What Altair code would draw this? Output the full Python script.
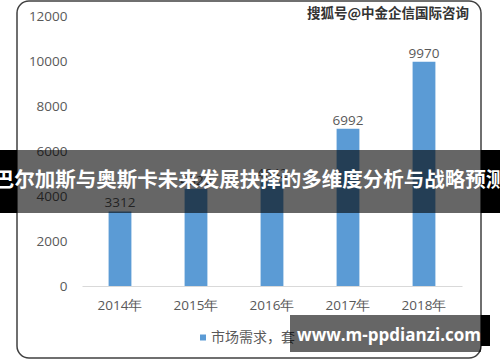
import altair as alt
import pandas as pd

years = ["2014年", "2015年", "2016年", "2017年", "2018年"]
demand = [3312, 4320, 4642, 6992, 9970]
y_ticks = [0, 2000, 4000, 6000, 8000, 10000, 12000]
series_name = ["市场需求，套"]
banner_title = ["巴尔加斯与奥斯卡未来发展抉择的多维度分析与战略预测"]
source_mark = ["搜狐号@中金企信国际咨询"]
site_mark = ["www.m-ppdianzi.com"]

df = pd.DataFrame({"year": years, "value": demand})
one = pd.DataFrame({"k": [0]})

W, H = 380, 270
PL, PT = 82, 16
GRAY = "#595959"
BLUE = "#5b9bd5"

x_enc = alt.X(
    "year:N", sort=years,
    scale=alt.Scale(paddingInner=0.7, paddingOuter=0.35),
    axis=alt.Axis(title=None, labelAngle=0, domain=True, domainColor="#d9d9d9",
                  domainWidth=1, ticks=False, labelPadding=12, labelFontSize=13.5,
                  labelColor=GRAY, labelFont="Open Sans"),
)
y_enc = alt.Y(
    "value:Q",
    scale=alt.Scale(domain=[0, 12000]),
    axis=alt.Axis(title=None, values=y_ticks, grid=False, domain=False, ticks=False,
                  labelPadding=15, labelFontSize=13.5, labelColor=GRAY,
                  labelFont="Open Sans", format="d"),
)

frame = alt.Chart(one).mark_rect(
    fill="white", fillOpacity=0, stroke="#404040", strokeWidth=1.5, cornerRadius=12
).encode(x=alt.value(17 - PL), x2=alt.value(481 - PL),
         y=alt.value(1 - PT), y2=alt.value(358 - PT))

bars = alt.Chart(df).mark_bar(color=BLUE).encode(x=x_enc, y=y_enc)

labels = alt.Chart(df).mark_text(
    dy=-8, fontSize=13.5, color=GRAY, font="Open Sans"
).encode(x=alt.X("year:N", sort=years), y="value:Q",
         text=alt.Text("value:Q", format="d"))

leg_df = pd.DataFrame({"s": series_name})
leg_sym = alt.Chart(leg_df).mark_square(size=36, color=BLUE, opacity=1).encode(
    x=alt.value(203 - PL), y=alt.value(337.5 - PT))
leg_txt = alt.Chart(leg_df).mark_text(
    align="left", baseline="middle", fontSize=14, color=GRAY, font="Noto Sans CJK SC"
).encode(text="s:N", x=alt.value(211 - PL), y=alt.value(337.5 - PT))

banner_mid = alt.Chart(one).mark_rect(color="black", opacity=0.6).encode(
    x=alt.value(17 - PL), x2=alt.value(481 - PL), y=alt.value(150 - PT), y2=alt.value(213 - PT))
banner_l = alt.Chart(one).mark_rect(color="black").encode(
    x=alt.value(0 - PL), x2=alt.value(17 - PL), y=alt.value(150 - PT), y2=alt.value(213 - PT))
banner_r = alt.Chart(one).mark_rect(color="black").encode(
    x=alt.value(481 - PL), x2=alt.value(500 - PL), y=alt.value(150 - PT), y2=alt.value(213 - PT))
banner_txt = alt.Chart(pd.DataFrame({"t": banner_title})).mark_text(
    align="center", baseline="middle", fontSize=20.5, fontWeight="bold",
    color="white", font="Noto Sans CJK SC"
).encode(text="t:N", x=alt.value(250 - PL), y=alt.value(181 - PT))

src_txt = alt.Chart(pd.DataFrame({"t": source_mark})).mark_text(
    align="center", baseline="middle", fontSize=13.5, fontWeight="bold",
    color="#333333", font="Noto Sans CJK SC"
).encode(text="t:N", x=alt.value(388 - PL), y=alt.value(14 - PT))

site_box = alt.Chart(one).mark_rect(color="black", opacity=0.6).encode(
    x=alt.value(290 - PL), x2=alt.value(481 - PL), y=alt.value(315 - PT), y2=alt.value(352 - PT))
site_box_r = alt.Chart(one).mark_rect(color="black").encode(
    x=alt.value(481 - PL), x2=alt.value(490 - PL), y=alt.value(315 - PT), y2=alt.value(346 - PT))
site_txt = alt.Chart(pd.DataFrame({"t": site_mark})).mark_text(
    align="center", baseline="middle", fontSize=17, fontWeight="bold",
    color="white", font="Open Sans"
).encode(text="t:N", x=alt.value(389 - PL), y=alt.value(336 - PT))

chart = alt.layer(
    frame, bars, labels, leg_sym, leg_txt,
    banner_mid, banner_l, banner_r, banner_txt, src_txt,
    site_box, site_box_r, site_txt,
).properties(
    width=W, height=H,
    padding={"left": PL, "top": PT, "right": 500 - PL - W, "bottom": 362 - PT - H},
    autosize=alt.AutoSizeParams(type="none"),
    background="white",
).configure_view(stroke=None)

chart.save("out.html", embed_options={"renderer": "svg", "actions": False})
